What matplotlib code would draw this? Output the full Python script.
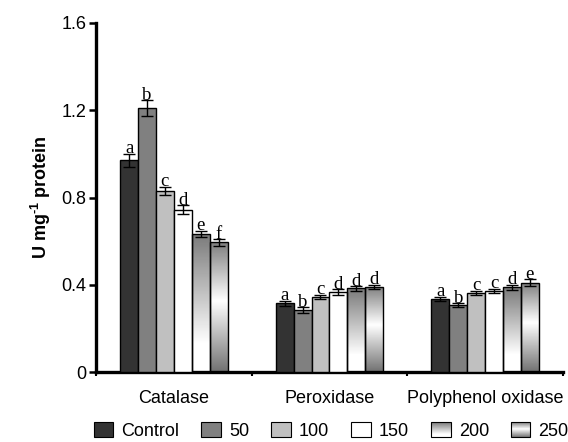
import numpy as np
import matplotlib
matplotlib.use("Agg")
import matplotlib.pyplot as plt
from matplotlib.patches import Rectangle
from matplotlib.legend_handler import HandlerBase

# ── data ──────────────────────────────────────────────────────────────────────
enzymes = ["Catalase", "Peroxidase", "Polyphenol oxidase"]
treatments = ["Control", "50", "100", "150", "200", "250"]

# rows = treatment, columns = enzyme
means = [
    [0.97, 0.316, 0.336],   # Control
    [1.21, 0.284, 0.307],   # 50
    [0.83, 0.344, 0.364],   # 100
    [0.745, 0.367, 0.373],  # 150
    [0.633, 0.384, 0.388],  # 200
    [0.595, 0.390, 0.410],  # 250
]
errors = [
    [0.030, 0.012, 0.010],
    [0.035, 0.014, 0.010],
    [0.020, 0.010, 0.010],
    [0.020, 0.012, 0.010],
    [0.015, 0.010, 0.012],
    [0.015, 0.010, 0.015],
]
letters = [
    ["a", "a", "a"],
    ["b", "b", "b"],
    ["c", "c", "c"],
    ["d", "d", "c"],
    ["e", "d", "d"],
    ["f", "d", "e"],
]

yticks = [0, 0.4, 0.8, 1.2, 1.6]
ytick_labels = ["0", "0.4", "0.8", "1.2", "1.6"]

# ── styles ────────────────────────────────────────────────────────────────────
solid_colors = ["#333333", "#808080", "#c0c0c0", "#ffffff", None, None]


def gradient_levels(kind, n=60):
    t = np.linspace(0, 1, n)  # 0 = top, 1 = bottom
    if kind == "200":
        g = np.clip(0.48 + 0.52 * t / 0.8, 0, 1)
    else:
        g = np.where(t < 0.45, 0.50 + 0.5 * t / 0.45,
                     1.0 - 0.55 * (t - 0.45) / 0.55)
    return g


gradients = {4: gradient_levels("200"), 5: gradient_levels("250")}


class GradientHandler(HandlerBase):
    def __init__(self, levels):
        super().__init__()
        self.levels = levels

    def create_artists(self, legend, orig_handle, xdescent, ydescent,
                       width, height, fontsize, trans):
        n = len(self.levels)
        arts = []
        for i, g in enumerate(self.levels):
            y = -ydescent + height * (1 - (i + 1) / n)
            arts.append(Rectangle((-xdescent, y), width, height / n * 1.05,
                                  facecolor=str(g), edgecolor="none",
                                  transform=trans))
        arts.append(Rectangle((-xdescent, -ydescent), width, height,
                              facecolor="none", edgecolor="black", lw=0.8,
                              transform=trans))
        return arts


plt.rcParams["font.family"] = ["Liberation Sans", "DejaVu Sans"]
plt.rcParams["mathtext.fontset"] = "custom"
plt.rcParams["mathtext.rm"] = "Liberation Sans:bold"
plt.rcParams["mathtext.bf"] = "Liberation Sans:bold"

fig = plt.figure(figsize=(5.68, 4.42), dpi=100)
ax = fig.add_axes([0.169, 0.158, 0.822, 0.79])

x = np.arange(len(enzymes)) + 0.5
bw = 0.115
offsets = (np.arange(len(treatments)) - 2.5) * bw

handles = []
for i, name in enumerate(treatments):
    xs = x + offsets[i]
    fc = solid_colors[i] if solid_colors[i] else "none"
    bars = ax.bar(xs, means[i], width=bw, facecolor=fc, edgecolor="black",
                  linewidth=1.0, zorder=3)
    if i in gradients:
        img = np.array(gradients[i]).reshape(-1, 1)
        for b in bars:
            bx, by = b.get_x(), b.get_y()
            im = ax.imshow(img, cmap="gray", vmin=0, vmax=1, aspect="auto",
                           extent=[bx, bx + b.get_width(), by, by + b.get_height()],
                           zorder=2, interpolation="bilinear")
            im.set_clip_path(b)
    ax.errorbar(xs, means[i], yerr=errors[i], fmt="none", ecolor="black",
                elinewidth=1.0, capsize=4, capthick=1.0, zorder=4)
    for xi, m, e, lab in zip(xs, means[i], errors[i], letters[i]):
        ax.text(xi, m + e + 0.002, lab, ha="center", va="baseline",
                fontsize=13.5, family=["Liberation Serif", "DejaVu Serif"],
                zorder=5)
    handles.append(Rectangle((0, 0), 1, 1, facecolor=fc, edgecolor="black",
                             lw=0.8))

ax.set_xlim(0, 3)
ax.set_ylim(0, 1.6)
ax.set_yticks(yticks)
ax.set_yticklabels(ytick_labels, fontsize=13)
ax.set_xticks(x)
ax.set_xticklabels(enzymes, fontsize=13)
ax.set_xticks([0, 1, 2, 3], minor=True)
ax.tick_params(axis="x", which="major", length=0, pad=13)
ax.tick_params(axis="x", which="minor", length=3, width=1.5, direction="out")
ax.tick_params(axis="y", length=5, width=1.8, direction="out", pad=2)
ax.set_ylabel("U mg$^{\u2010 1}$ protein", fontsize=13, fontweight="bold",
              labelpad=6)

for s in ["top", "right"]:
    ax.spines[s].set_visible(False)
for s in ["left", "bottom"]:
    ax.spines[s].set_linewidth(2.4)

handler_map = {handles[k]: GradientHandler(v) for k, v in gradients.items()}
fig.legend(handles, treatments, loc="center", ncol=6,
           bbox_to_anchor=(0.583, 0.025), frameon=False, fontsize=13,
           handlelength=1.1, handleheight=0.9, handletextpad=0.45,
           columnspacing=1.2, handler_map=handler_map, borderaxespad=0,
           borderpad=0)

fig.savefig("out.png", dpi=100)
